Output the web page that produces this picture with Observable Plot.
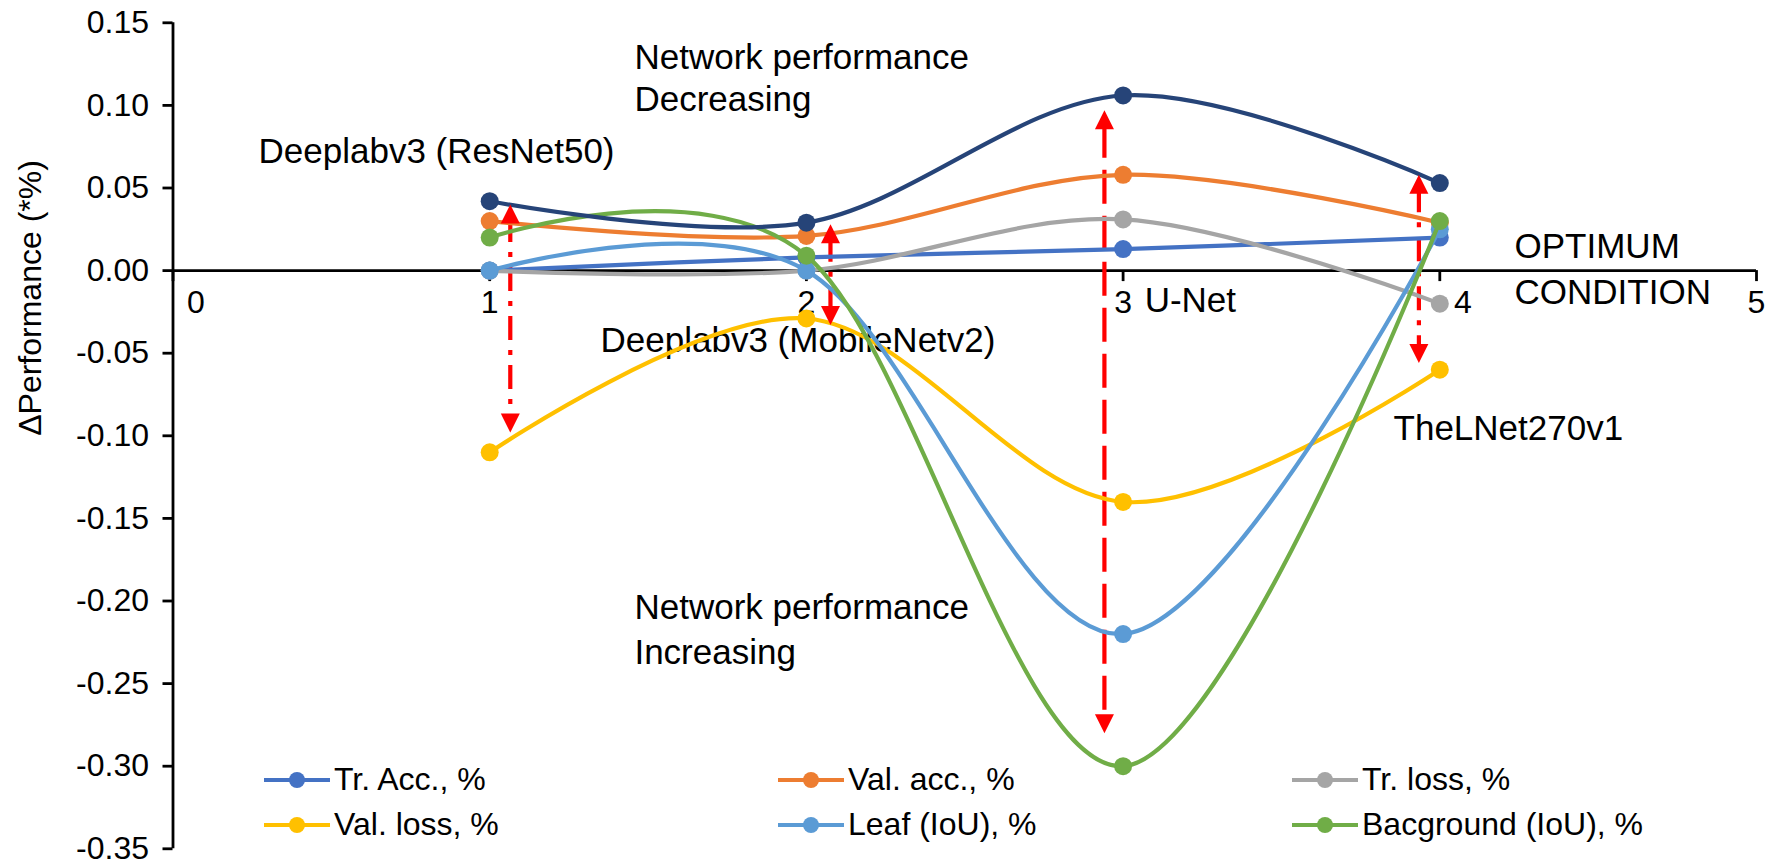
<!DOCTYPE html>
<html>
<head>
<meta charset="utf-8">
<script src="https://cdn.jsdelivr.net/npm/d3@7"></script>
<script src="https://cdn.jsdelivr.net/npm/@observablehq/plot@0.6"></script>
<style>
  html, body { margin: 0; padding: 0; background: #fff; }
  #wrap { position: relative; width: 1772px; height: 867px; font-family: Arial, "Liberation Sans", sans-serif; }
  #legend { position: absolute; left: 264px; top: 757px; display: grid; grid-template-columns: 514px 514px 480px; grid-auto-rows: 45px; }
  .item { display: flex; align-items: center; font-size: 32px; color: #000; white-space: nowrap; }
  .item svg { margin-right: 4px; flex: none; }
</style>
</head>
<body>
<div id="wrap"></div>
<script>
// ---- data ----
const xValues = [1, 2, 3, 4];
const seriesNames = ["Tr. Acc., %", "Val. acc., %", "Tr. loss, %", "Val. loss, %", "Leaf (IoU), %", "Bacground (IoU), %", "Series 7"];
const legendNames = ["Tr. Acc., %", "Val. acc., %", "Tr. loss, %", "Val. loss, %", "Leaf (IoU), %", "Bacground (IoU), %"];
const trAcc   = [0.000, 0.008, 0.013, 0.020];
const valAcc  = [0.030, 0.021, 0.058, 0.029];
const trLoss  = [0.000, 0.000, 0.031, -0.020];
const valLoss = [-0.110, -0.029, -0.140, -0.060];
const leafIoU = [0.000, 0.000, -0.220, 0.025];
const bgIoU   = [0.020, 0.009, -0.300, 0.030];
const series7 = [0.042, 0.029, 0.106, 0.053];
const colors = ["#4472C4", "#ED7D31", "#A5A5A5", "#FFC000", "#5B9BD5", "#70AD47", "#264478"];
const yTicks = [-0.35, -0.30, -0.25, -0.20, -0.15, -0.10, -0.05, 0.00, 0.05, 0.10, 0.15];
const xTicks = [0, 1, 2, 3, 4, 5];
const yLabel = "ΔPerformance (*%)";
// annotation arrows (x position, tip values)
const arrows = [
  {x: 1.065, top: 0.040, bottom: -0.098, kind: "dashdot"},
  {x: 2.076, top: 0.028, bottom: -0.033, kind: "dashdot"},
  {x: 2.941, top: 0.097, bottom: -0.280, kind: "dash"},
  {x: 3.934, top: 0.058, bottom: -0.056, kind: "dashdot"}
];
// annotation texts (data coordinates)
const notes = [
  {text: "Network performance", x: 1.457, y: 0.129},
  {text: "Decreasing", x: 1.457, y: 0.1034},
  {text: "Deeplabv3 (ResNet50)", x: 0.27, y: 0.072},
  {text: "U-Net", x: 3.068, y: -0.018},
  {text: "Deeplabv3 (MobileNetv2)", x: 1.35, y: -0.0425},
  {text: "TheLNet270v1", x: 3.854, y: -0.0958},
  {text: "Network performance", x: 1.457, y: -0.204},
  {text: "Increasing", x: 1.457, y: -0.2314},
  {text: "OPTIMUM", x: 4.236, y: 0.0144},
  {text: "CONDITION", x: 4.236, y: -0.0134}
];

// ---- build ----
const allValues = [trAcc, valAcc, trLoss, valLoss, leafIoU, bgIoU, series7];
const rows = [];
seriesNames.forEach((name, i) => xValues.forEach((x, j) => rows.push({series: name, x, y: allValues[i][j]})));

const arrowUp = {draw(ctx) { ctx.moveTo(0, 0); ctx.lineTo(9.5, 19); ctx.lineTo(-9.5, 19); ctx.closePath(); }};
const arrowDown = {draw(ctx) { ctx.moveTo(0, 0); ctx.lineTo(9.5, -19); ctx.lineTo(-9.5, -19); ctx.closePath(); }};

const seriesMarks = seriesNames.flatMap(name => {
  const d = rows.filter(r => r.series === name);
  return [
    Plot.line(d, {x: "x", y: "y", stroke: "series", strokeWidth: 4.2, curve: "cardinal"}),
    Plot.dot(d, {x: "x", y: "y", fill: "series", r: 9, stroke: "none"})
  ];
});

const chart = Plot.plot({
  width: 1772,
  height: 867,
  marginLeft: 172.5,
  marginRight: 16,
  marginTop: 22.3,
  marginBottom: 18.7,
  style: {fontFamily: "Arial, 'Liberation Sans', sans-serif", fontSize: "32px", color: "#000", background: "#fff"},
  x: {domain: [0, 5], axis: null},
  y: {domain: [-0.35, 0.15], axis: null},
  color: {domain: seriesNames, range: colors},
  marks: [
    Plot.axisY({ticks: yTicks, tickFormat: d => d.toFixed(2), tickSize: 10, tickPadding: 14, strokeWidth: 2.8, fontSize: 32, label: null}),
    Plot.ruleX([0], {stroke: "#000", strokeWidth: 2.8}),
    Plot.text([yLabel], {frameAnchor: "left", rotate: -90, dx: -142, fontSize: 32, fill: "#000"}),
    Plot.ruleY([0], {stroke: "#000", strokeWidth: 2.8}),
    Plot.ruleX(xTicks, {x: d => d, y1: 0, y2: 0, insetBottom: -11, stroke: "#000", strokeWidth: 2.8}),
    Plot.text(xTicks.filter(d => d !== 0 && d !== 4), {x: d => d, y: 0, dy: 32, text: d => String(d), fontSize: 32, fill: "#000"}),
    Plot.text(xTicks.filter(d => d === 0 || d === 4), {x: d => d, y: 0, dy: 32, dx: 23, text: d => String(d), fontSize: 32, fill: "#000"}),
    Plot.text(notes, {x: "x", y: "y", text: "text", textAnchor: "start", fontSize: 35, fill: "#000"}),
    Plot.ruleX(arrows.filter(a => a.kind === "dashdot"), {x: "x", y1: "top", y2: "bottom", insetTop: 14, insetBottom: 14, stroke: "#FF0000", strokeWidth: 4.2, strokeDasharray: "24,10,5,10"}),
    Plot.ruleX(arrows.filter(a => a.kind === "dash"), {x: "x", y1: "top", y2: "bottom", insetTop: 14, insetBottom: 14, stroke: "#FF0000", strokeWidth: 4.2, strokeDasharray: "34,12"}),
    ...seriesMarks,
    Plot.dot(arrows, {x: "x", y: "top", symbol: arrowUp, fill: "#FF0000", stroke: "none"}),
    Plot.dot(arrows, {x: "x", y: "bottom", symbol: arrowDown, fill: "#FF0000", stroke: "none"})
  ]
});

const wrap = document.getElementById("wrap");
wrap.appendChild(chart);

// legend (six named series)
const legend = document.createElement("div");
legend.id = "legend";
legendNames.forEach((name, i) => {
  const item = document.createElement("div");
  item.className = "item";
  const c = colors[seriesNames.indexOf(name)];
  item.innerHTML = `<svg width="66" height="20"><line x1="0" x2="66" y1="10" y2="10" stroke="${c}" stroke-width="4.2"/><circle cx="33" cy="10" r="8" fill="${c}"/></svg><span>${name}</span>`;
  legend.appendChild(item);
});
wrap.appendChild(legend);
</script>
</body>
</html>
